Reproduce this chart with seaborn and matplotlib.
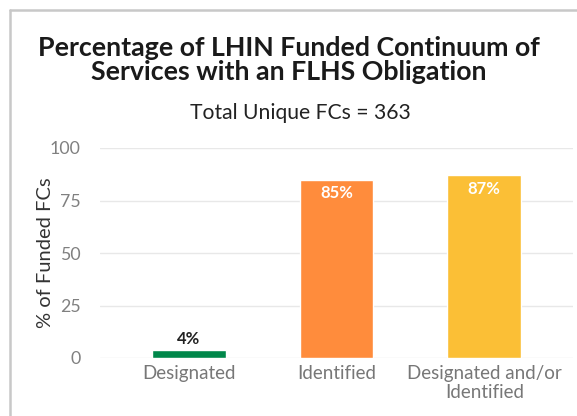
import matplotlib
matplotlib.use("Agg")
import matplotlib.pyplot as plt
import seaborn as sns
import pandas as pd
from matplotlib.lines import Line2D

categories = ["Designated", "Identified", "Designated and/or\nIdentified"]
values = [4, 85, 87]
labels = ["4%", "85%", "87%"]
colors = ["#00874A", "#FF8C3C", "#FBBF36"]
yticks = [0, 25, 50, 75, 100]

sns.set_theme(style="white")
plt.rcParams['font.family'] = ['Lato', 'DejaVu Sans']

W, H = 577, 416
fig = plt.figure(figsize=(W / 100, H / 100), dpi=100)

# page border
fig.add_artist(Line2D([10 / W, 10 / W], [0, 1 - 10 / H], transform=fig.transFigure, color="#c8c8c8", lw=1.8))
fig.add_artist(Line2D([10 / W, 1], [1 - 10 / H, 1 - 10 / H], transform=fig.transFigure, color="#c8c8c8", lw=1.8))

ax = fig.add_axes([100 / W, 58 / H, 473 / W, 210 / H])
df = pd.DataFrame({"cat": categories, "val": values})
sns.barplot(data=df, x="cat", y="val", hue="cat", palette=colors, legend=False,
            width=0.5, saturation=1, ax=ax)
ax.set_xlim(-0.6, 2.6)
ax.set_ylim(0, 100)
ax.set_yticks(yticks)
ax.yaxis.grid(True, color="#e8e8e8", lw=1)
ax.set_axisbelow(True)
for s in ax.spines.values():
    s.set_visible(False)
ax.tick_params(axis="x", length=0, labelsize=13.5, labelcolor="#777777", pad=5)
ax.tick_params(axis="y", length=0, labelsize=12.8, labelcolor="#808080", pad=14)
ax.set_xlabel("")
ax.set_ylabel("% of Funded FCs", fontsize=14.5, color="#333333", labelpad=-3)
for lab in ax.get_xticklabels():
    lab.set_linespacing(1.15)

for i, (v, t) in enumerate(zip(values, labels)):
    if v < 20:
        ax.text(i, v + 1, t, ha="center", va="bottom", fontsize=12, fontweight="bold", color="#222222")
    else:
        ax.text(i, v - 2.5, t, ha="center", va="top", fontsize=12, fontweight="bold", color="white")

fig.text(289 / W, 1 - 60 / H, "Percentage of LHIN Funded Continuum of\nServices with an FLHS Obligation",
         ha="center", va="center", fontsize=19.3, fontweight="bold", color="#1a1a1a", linespacing=1.0)
fig.text(300 / W, 1 - 113 / H, "Total Unique FCs = 363", ha="center", va="center",
         fontsize=15.2, color="#222222")

fig.savefig("out.png", dpi=100)
